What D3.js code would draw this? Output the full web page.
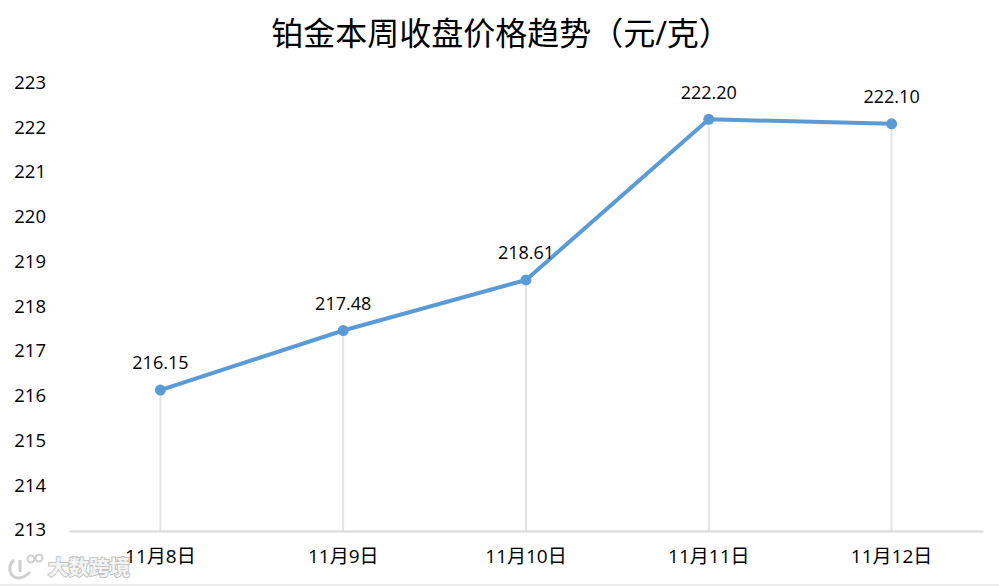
<!DOCTYPE html>
<html>
<head>
<meta charset="utf-8">
<script src="https://cdnjs.cloudflare.com/ajax/libs/d3/7.8.5/d3.min.js"></script>
<style>
html, body { margin: 0; padding: 0; background: #fff; overflow: hidden; }
text { font-family: "Open Sans", "Noto Sans CJK SC", sans-serif; fill: #000; }
</style>
</head>
<body>
<svg width="999" height="586"></svg>
<script>
const categories = ['11月8日', '11月9日', '11月10日', '11月11日', '11月12日']
const prices = [216.15, 217.48, 218.61, 222.20, 222.10]
const yTicks = [213, 214, 215, 216, 217, 218, 219, 220, 221, 222, 223]
const titleText = '铂金本周收盘价格趋势（元/克）'
const watermark = '大数跨境'

const svg = d3.select('svg')
const x = d3.scaleBand().domain(categories).range([69, 983])
const y = d3.scaleLinear().domain([213, 223]).range([531, 83.5])
const cx = d => x(d) + x.bandwidth() / 2
const blue = '#5b9bd5'
const grey = '#d9d9d9'

svg.append('text')
	.attr('x', 501)
	.attr('y', 36.5)
	.attr('text-anchor', 'middle')
	.attr('dominant-baseline', 'middle')
	.style('font-size', '32px')
	.text(titleText)

// y axis has no line, only labels
const yAxis = svg.append('g')
	.attr('transform', 'translate(46,-1)')
	.call(d3.axisLeft(y).tickValues(yTicks).tickSize(0).tickPadding(0))
yAxis.select('.domain').remove()
yAxis.selectAll('text')
	.style('font-family', '"Open Sans", sans-serif')
	.style('font-size', '18.5px')

// drop lines from the points down to the axis
svg.append('g').selectAll('line')
	.data(prices)
	.join('line')
	.attr('x1', (d, i) => cx(categories[i]))
	.attr('x2', (d, i) => cx(categories[i]))
	.attr('y1', d => y(d))
	.attr('y2', y(213))
	.attr('stroke', '#e3e3e3')
	.attr('stroke-width', 2)

const xAxis = svg.append('g')
	.attr('transform', `translate(0,${y(213)})`)
	.call(d3.axisBottom(x).tickSize(0).tickPadding(19))
xAxis.select('.domain')
	.attr('stroke', grey)
	.attr('stroke-width', 2)
xAxis.selectAll('text')
	.style('font-size', '19px')

const line = d3.line()
	.x((d, i) => cx(categories[i]))
	.y(d => y(d))

svg.append('path')
	.datum(prices)
	.attr('d', line)
	.attr('fill', 'none')
	.attr('stroke', blue)
	.attr('stroke-width', 4)
	.attr('stroke-linejoin', 'round')

svg.append('g').selectAll('circle')
	.data(prices)
	.join('circle')
	.attr('cx', (d, i) => cx(categories[i]))
	.attr('cy', d => y(d))
	.attr('r', 5.5)
	.attr('fill', blue)

svg.append('g').selectAll('text')
	.data(prices)
	.join('text')
	.attr('x', (d, i) => cx(categories[i]))
	.attr('y', d => y(d) - 25.5)
	.attr('text-anchor', 'middle')
	.attr('dominant-baseline', 'middle')
	.style('font-family', '"Open Sans", sans-serif')
	.style('font-size', '18px')
	.text(d => d.toFixed(2))

// watermark in the bottom left corner
const mark = svg.append('g').attr('fill', 'none').attr('stroke', '#cfcfcf').attr('stroke-width', 3)
mark.append('path').attr('d', 'M14 560 C7 566 9 578 19 578 C24 578 27 575 30 572')
mark.append('path').attr('d', 'M20 560 L20 572')
mark.append('circle').attr('cx', 31).attr('cy', 559).attr('r', 3.5).attr('stroke-width', 2)
mark.append('circle').attr('cx', 39).attr('cy', 558).attr('r', 3.5).attr('stroke-width', 2)
svg.append('text')
	.attr('x', 48)
	.attr('y', 569)
	.attr('dominant-baseline', 'middle')
	.attr('paint-order', 'stroke')
	.style('font-family', '"Noto Sans CJK SC", sans-serif')
	.style('font-size', '20.5px')
	.style('font-weight', '700')
	.style('fill', '#f4f4f4')
	.style('stroke', '#c4c4c4')
	.style('stroke-width', '2px')
	.text(watermark)

svg.append('line')
	.attr('x1', 0).attr('x2', 999)
	.attr('y1', 585).attr('y2', 585)
	.attr('stroke', grey)
	.attr('stroke-width', 1)
</script>
</body>
</html>
